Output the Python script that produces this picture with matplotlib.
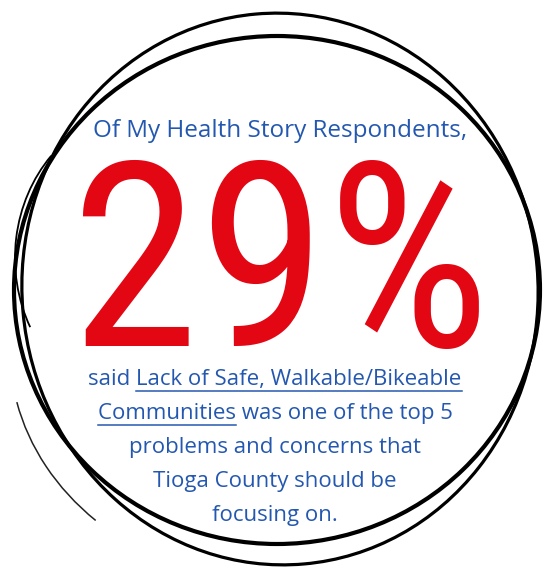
import matplotlib
matplotlib.use("Agg")
import matplotlib.pyplot as plt
from matplotlib import font_manager as fm
from matplotlib.textpath import TextPath
from matplotlib.patches import Ellipse, Arc

# content of the graphic
header = "Of My Health Story Respondents,"
share_pct = 29
body_lines = [
    ("said ", "Lack of Safe, Walkable/Bikeable", ""),
    ("", "Communities", " was one of the top 5"),
    ("", "", "problems and concerns that"),
    ("", "", "Tioga County should be"),
    ("", "", "focusing on."),
]

BLUE = "#2458b0"
RED = "#e30613"
W, H = 554, 572

fig = plt.figure(figsize=(W / 100, H / 100), dpi=100)
ax = fig.add_axes([0, 0, 1, 1])
ax.set_xlim(0, W)
ax.set_ylim(H, 0)
ax.axis("off")

# hand drawn looking rings
ax.add_patch(Ellipse((277, 290), 526, 508, angle=0, fill=False, ec="black", lw=3.0))
ax.add_patch(Ellipse((280, 289), 516, 552, angle=-5, fill=False, ec="black", lw=2.3))
ax.add_patch(Arc((150, 258), 270, 300, theta1=150, theta2=226, ec="black", lw=1.3))
ax.add_patch(Arc((285, 350), 550, 470, theta1=138, theta2=169, ec="#222222", lw=1.1))


# condensed face for the big number if one is around
def pick_font():
    for fam in ["Roboto Condensed", "Open Sans Condensed", "Noto Sans Condensed",
                "Liberation Sans Narrow", "Arial Narrow"]:
        try:
            fm.findfont(fm.FontProperties(family=fam), fallback_to_default=False)
            return fm.FontProperties(family=fam)
        except ValueError:
            pass
    for fam in ["DejaVu Sans", "Noto Sans", "Open Sans"]:
        fp = fm.FontProperties(family=fam, stretch="condensed")
        if "ondensed" in fm.findfont(fp):
            return fp
    return fm.FontProperties(family="Liberation Sans")


big_fp = pick_font()
big_txt = f"{share_pct}%"
ext = TextPath((0, 0), big_txt, size=100, prop=big_fp).get_extents()
scale = min(196 / ext.height, 396 / ext.width)
ax.text(281 - ext.width * scale / 2 - ext.x0 * scale, 349 + ext.y0 * scale, big_txt,
        ha="left", va="baseline", fontproperties=big_fp,
        size=100 * scale * 0.72, color=RED)

body_font = dict(family=["Open Sans", "DejaVu Sans"], size=16, color=BLUE)
ax.text(W / 2 + 3, 131, header, ha="center", va="center",
        family=["Open Sans", "DejaVu Sans"], size=17.5, color=BLUE)

fig.canvas.draw()
renderer = fig.canvas.get_renderer()
inv = ax.transData.inverted()


def width_px(s):
    t = ax.text(0, 0, s, **body_font)
    bb = t.get_window_extent(renderer)
    t.remove()
    return bb.width


y0, step = 379, 34
for i, (pre, under, post) in enumerate(body_lines):
    y = y0 + i * step
    line = pre + under + post
    t = ax.text(W / 2 - 2, y, line, ha="center", va="center", **body_font)
    if under:
        bb = t.get_window_extent(renderer)
        left = bb.x0
        if pre:
            left += width_px(line) - width_px(under + post)
        right = left + width_px(under)
        (xa, _), (xb, _) = inv.transform([(left, 0), (right, 0)])
        ax.plot([xa, xb], [y + 12, y + 12], color=BLUE, lw=1.1)

fig.savefig("out.png", dpi=100, facecolor="white")
